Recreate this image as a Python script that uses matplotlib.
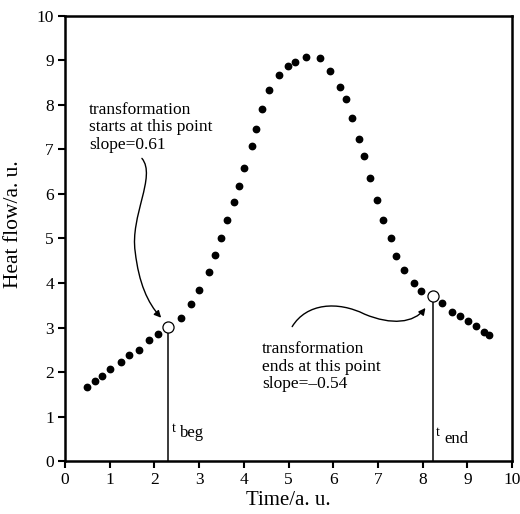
"""Heat flow curve with start and end points of the transformation."""

from matplotlib import pyplot
from matplotlib.patches import FancyArrowPatch
from matplotlib.path import Path
import numpy

# Measured heat flow (filled dots).
time = numpy.array([0.49, 0.67, 0.82, 1.01, 1.26, 1.43, 1.65, 1.88, 2.07,
                    2.60, 2.81, 3.00, 3.21, 3.35, 3.49, 3.62, 3.78, 3.89,
                    4.00, 4.18, 4.28, 4.40, 4.56, 4.79, 4.98, 5.15, 5.38,
                    5.71, 5.93, 6.15, 6.29, 6.41, 6.58, 6.69, 6.83, 6.97,
                    7.11, 7.29, 7.41, 7.58, 7.81, 7.96, 8.42, 8.66, 8.84,
                    9.01, 9.19, 9.36, 9.48])
heat = numpy.array([1.66, 1.80, 1.91, 2.06, 2.23, 2.38, 2.49, 2.72, 2.86,
                    3.21, 3.52, 3.84, 4.24, 4.64, 5.01, 5.42, 5.81, 6.19,
                    6.58, 7.08, 7.45, 7.90, 8.34, 8.68, 8.88, 8.97, 9.08,
                    9.06, 8.76, 8.40, 8.13, 7.71, 7.23, 6.85, 6.35, 5.87,
                    5.42, 5.01, 4.61, 4.29, 4.01, 3.83, 3.54, 3.35, 3.26,
                    3.15, 3.03, 2.89, 2.83])

# Start and end of the transformation (open circles).
t_beg, h_beg = 2.30, 3.02
t_end, h_end = 8.23, 3.70

pyplot.rcParams['font.family'] = ['Liberation Serif', 'DejaVu Serif']

fig = pyplot.figure(figsize=(5.2, 5.14), dpi=100)
ax = fig.add_axes([0.125, 0.103, 0.86, 0.866])

ax.plot(time, heat, linestyle='none', marker='o', markersize=4.6,
        color='black')
ax.vlines([t_beg, t_end], 0.0, [h_beg - 0.11, h_end - 0.11],
          color='#3a3a3a', linewidth=1.4)
ax.plot([t_beg, t_end], [h_beg, h_end], linestyle='none', marker='o',
        markersize=8, markerfacecolor='white', markeredgecolor='black',
        markeredgewidth=0.9)

# Labels of the vertical lines.
ax.text(2.39, 0.65, 't', fontsize=10)
ax.text(2.57, 0.54, 'beg', fontsize=12)
ax.text(8.30, 0.56, 't', fontsize=10)
ax.text(8.48, 0.40, 'end', fontsize=12)

ax.text(0.54, 8.07, 'transformation\nstarts at this point\nslope=0.61',
        fontsize=12.5, va='top', linespacing=1.12)
ax.text(4.40, 2.69, 'transformation\nends at this point\nslope=\u20130.54',
        fontsize=12.5, va='top', linespacing=1.12)

# Curved arrows pointing at the two open circles.
curve1 = Path([(1.72, 6.80), (2.05, 6.40), (1.45, 5.50), (1.57, 4.70),
               (1.65, 4.00), (1.85, 3.55), (2.15, 3.22)],
              [Path.MOVETO] + [Path.CURVE4] * 6)
curve2 = Path([(5.08, 3.02), (5.40, 3.55), (6.10, 3.60), (6.70, 3.30),
               (7.30, 3.05), (7.80, 3.10), (8.06, 3.44)],
              [Path.MOVETO] + [Path.CURVE4] * 6)
for curve in (curve1, curve2):
    ax.add_patch(FancyArrowPatch(path=curve, arrowstyle='-|>',
                                 mutation_scale=10, color='black',
                                 linewidth=1.0))

ax.set_xlim(0, 10)
ax.set_ylim(0, 10)
ax.set_xticks(range(0, 11))
ax.set_yticks(range(0, 11))
ax.tick_params(direction='out', length=5, width=1.5, labelsize=12.5,
               top=False, right=False, pad=3)
for spine in ax.spines.values():
    spine.set_linewidth(1.8)
ax.set_xlabel('Time/a. u.', fontsize=15, labelpad=2)
ax.set_ylabel('Heat flow/a. u.', fontsize=15.5)
ax.yaxis.set_label_coords(-0.095, 0.533)

fig.savefig('out.png', dpi=100)
